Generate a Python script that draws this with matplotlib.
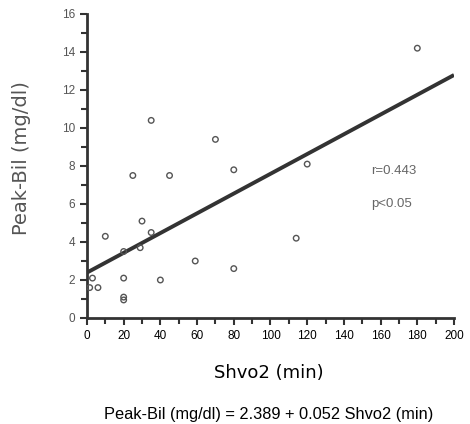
import matplotlib
matplotlib.use("Agg")
import matplotlib.pyplot as plt
import numpy as np
from matplotlib.ticker import MultipleLocator

shvo2 = [180, 35, 70, 80, 120, 25, 45, 30, 35, 10, 29, 20, 114, 59, 80, 3, 20, 40, 1.5, 6, 20, 20]
peak_bil = [14.2, 10.4, 9.4, 7.8, 8.1, 7.5, 7.5, 5.1, 4.5, 4.3, 3.7, 3.5, 4.2, 3.0, 2.6, 2.1, 2.1, 2.0, 1.6, 1.6, 1.1, 0.95]
intercept = 2.389
slope = 0.052
r_text = "r=0.443"
p_text = "p<0.05"

plt.rcParams['font.family'] = ['Liberation Sans', 'DejaVu Sans']

fig = plt.figure(figsize=(4.7, 4.24), dpi=100)
ax = fig.add_axes([0.185, 0.25, 0.781, 0.717])

ax.scatter(shvo2, peak_bil, s=16, facecolors='none', edgecolors='#555555', linewidths=1.0, zorder=3)
xl = np.array([0, 200])
ax.plot(xl, intercept + slope * xl, color='#333333', lw=2.8, zorder=2, solid_capstyle='butt')

ax.set_xlim(0, 200)
ax.set_ylim(0, 16)
ax.xaxis.set_major_locator(MultipleLocator(20))
ax.xaxis.set_minor_locator(MultipleLocator(10))
ax.yaxis.set_major_locator(MultipleLocator(2))
ax.yaxis.set_minor_locator(MultipleLocator(1))
for s in ['top', 'right']:
    ax.spines[s].set_visible(False)
for s in ['left', 'bottom']:
    ax.spines[s].set_linewidth(2)
    ax.spines[s].set_color('#333333')
ax.tick_params(which='both', direction='out', width=1.5, color='#333333')
ax.tick_params(which='major', length=5, labelsize=8.5)
ax.tick_params(which='minor', length=4)
ax.tick_params(axis='y', labelcolor='#555555')

fig.text(269 / 470, 1 - 373 / 424, "Shvo2 (min)", fontsize=13, family='DejaVu Sans',
         ha='center', va='center')
fig.text(22 / 470, 1 - 158 / 424, "Peak-Bil (mg/dl)", fontsize=14, family='DejaVu Sans',
         color='#555555', rotation=90, ha='center', va='center')

ax.text(155, 7.75, r_text, fontsize=9.5, color='#666666', va='center')
ax.text(155, 6.0, p_text, fontsize=9.5, color='#666666', va='center')

fig.text(269 / 470, 1 - 415 / 424, "Peak-Bil (mg/dl) = 2.389 + 0.052 Shvo2 (min)",
         fontsize=11.8, ha='center', va='center')

fig.savefig("out.png", dpi=100)
